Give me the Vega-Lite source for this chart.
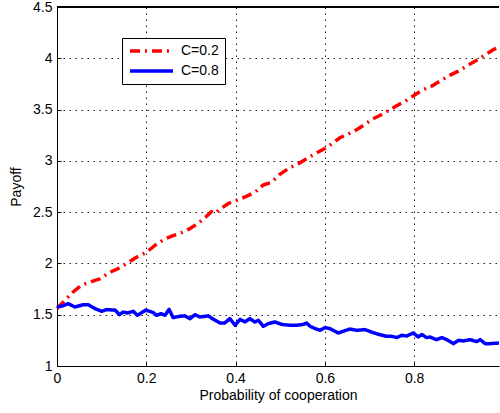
{
  "$schema": "https://vega.github.io/schema/vega-lite/v6.json",
  "width": 442,
  "height": 359,
  "autosize": {"type": "none"},
  "padding": {"left": 57, "top": 7, "right": 1, "bottom": 47},
  "background": "white",
  "config": {
    "view": {"stroke": null},
    "font": "Liberation Sans",
    "axis": {
      "labelFont": "Liberation Sans",
      "titleFont": "Liberation Sans",
      "labelFontSize": 14,
      "titleFontSize": 14,
      "titleFontWeight": "normal",
      "labelColor": "black",
      "titleColor": "black",
      "domainColor": "black",
      "domainWidth": 1,
      "tickColor": "black",
      "tickSize": -4
    }
  },
  "data": {
    "values": [
      {"p": 0.0, "payoff": 1.56, "series": "C=0.2"},
      {"p": 0.02, "payoff": 1.65, "series": "C=0.2"},
      {"p": 0.033, "payoff": 1.71, "series": "C=0.2"},
      {"p": 0.055, "payoff": 1.79, "series": "C=0.2"},
      {"p": 0.07, "payoff": 1.81, "series": "C=0.2"},
      {"p": 0.085, "payoff": 1.835, "series": "C=0.2"},
      {"p": 0.096, "payoff": 1.85, "series": "C=0.2"},
      {"p": 0.119, "payoff": 1.915, "series": "C=0.2"},
      {"p": 0.137, "payoff": 1.95, "series": "C=0.2"},
      {"p": 0.16, "payoff": 2.01, "series": "C=0.2"},
      {"p": 0.178, "payoff": 2.06, "series": "C=0.2"},
      {"p": 0.201, "payoff": 2.11, "series": "C=0.2"},
      {"p": 0.219, "payoff": 2.175, "series": "C=0.2"},
      {"p": 0.242, "payoff": 2.24, "series": "C=0.2"},
      {"p": 0.26, "payoff": 2.27, "series": "C=0.2"},
      {"p": 0.279, "payoff": 2.3, "series": "C=0.2"},
      {"p": 0.298, "payoff": 2.34, "series": "C=0.2"},
      {"p": 0.316, "payoff": 2.39, "series": "C=0.2"},
      {"p": 0.335, "payoff": 2.46, "series": "C=0.2"},
      {"p": 0.346, "payoff": 2.505, "series": "C=0.2"},
      {"p": 0.355, "payoff": 2.49, "series": "C=0.2"},
      {"p": 0.365, "payoff": 2.53, "series": "C=0.2"},
      {"p": 0.384, "payoff": 2.585, "series": "C=0.2"},
      {"p": 0.405, "payoff": 2.62, "series": "C=0.2"},
      {"p": 0.425, "payoff": 2.655, "series": "C=0.2"},
      {"p": 0.445, "payoff": 2.7, "series": "C=0.2"},
      {"p": 0.462, "payoff": 2.765, "series": "C=0.2"},
      {"p": 0.48, "payoff": 2.79, "series": "C=0.2"},
      {"p": 0.499, "payoff": 2.868, "series": "C=0.2"},
      {"p": 0.522, "payoff": 2.935, "series": "C=0.2"},
      {"p": 0.54, "payoff": 2.97, "series": "C=0.2"},
      {"p": 0.559, "payoff": 3.02, "series": "C=0.2"},
      {"p": 0.578, "payoff": 3.07, "series": "C=0.2"},
      {"p": 0.6, "payoff": 3.12, "series": "C=0.2"},
      {"p": 0.617, "payoff": 3.17, "series": "C=0.2"},
      {"p": 0.634, "payoff": 3.226, "series": "C=0.2"},
      {"p": 0.652, "payoff": 3.26, "series": "C=0.2"},
      {"p": 0.671, "payoff": 3.304, "series": "C=0.2"},
      {"p": 0.688, "payoff": 3.35, "series": "C=0.2"},
      {"p": 0.705, "payoff": 3.404, "series": "C=0.2"},
      {"p": 0.722, "payoff": 3.44, "series": "C=0.2"},
      {"p": 0.742, "payoff": 3.49, "series": "C=0.2"},
      {"p": 0.762, "payoff": 3.54, "series": "C=0.2"},
      {"p": 0.783, "payoff": 3.59, "series": "C=0.2"},
      {"p": 0.8, "payoff": 3.64, "series": "C=0.2"},
      {"p": 0.82, "payoff": 3.694, "series": "C=0.2"},
      {"p": 0.84, "payoff": 3.73, "series": "C=0.2"},
      {"p": 0.858, "payoff": 3.778, "series": "C=0.2"},
      {"p": 0.878, "payoff": 3.83, "series": "C=0.2"},
      {"p": 0.899, "payoff": 3.875, "series": "C=0.2"},
      {"p": 0.92, "payoff": 3.93, "series": "C=0.2"},
      {"p": 0.94, "payoff": 3.98, "series": "C=0.2"},
      {"p": 0.958, "payoff": 4.03, "series": "C=0.2"},
      {"p": 0.977, "payoff": 4.084, "series": "C=0.2"},
      {"p": 0.99, "payoff": 4.11, "series": "C=0.2"},
      {"p": 0.0, "payoff": 1.575, "series": "C=0.8"},
      {"p": 0.012, "payoff": 1.585, "series": "C=0.8"},
      {"p": 0.025, "payoff": 1.608, "series": "C=0.8"},
      {"p": 0.04, "payoff": 1.575, "series": "C=0.8"},
      {"p": 0.059, "payoff": 1.598, "series": "C=0.8"},
      {"p": 0.07, "payoff": 1.598, "series": "C=0.8"},
      {"p": 0.085, "payoff": 1.56, "series": "C=0.8"},
      {"p": 0.1, "payoff": 1.533, "series": "C=0.8"},
      {"p": 0.111, "payoff": 1.55, "series": "C=0.8"},
      {"p": 0.13, "payoff": 1.545, "series": "C=0.8"},
      {"p": 0.14, "payoff": 1.5, "series": "C=0.8"},
      {"p": 0.148, "payoff": 1.526, "series": "C=0.8"},
      {"p": 0.158, "payoff": 1.517, "series": "C=0.8"},
      {"p": 0.171, "payoff": 1.533, "series": "C=0.8"},
      {"p": 0.18, "payoff": 1.494, "series": "C=0.8"},
      {"p": 0.199, "payoff": 1.545, "series": "C=0.8"},
      {"p": 0.216, "payoff": 1.52, "series": "C=0.8"},
      {"p": 0.223, "payoff": 1.494, "series": "C=0.8"},
      {"p": 0.233, "payoff": 1.51, "series": "C=0.8"},
      {"p": 0.242, "payoff": 1.494, "series": "C=0.8"},
      {"p": 0.251, "payoff": 1.552, "series": "C=0.8"},
      {"p": 0.26, "payoff": 1.472, "series": "C=0.8"},
      {"p": 0.275, "payoff": 1.485, "series": "C=0.8"},
      {"p": 0.286, "payoff": 1.489, "series": "C=0.8"},
      {"p": 0.298, "payoff": 1.462, "series": "C=0.8"},
      {"p": 0.309, "payoff": 1.5, "series": "C=0.8"},
      {"p": 0.32, "payoff": 1.478, "series": "C=0.8"},
      {"p": 0.339, "payoff": 1.489, "series": "C=0.8"},
      {"p": 0.35, "payoff": 1.456, "series": "C=0.8"},
      {"p": 0.365, "payoff": 1.42, "series": "C=0.8"},
      {"p": 0.376, "payoff": 1.42, "series": "C=0.8"},
      {"p": 0.387, "payoff": 1.462, "series": "C=0.8"},
      {"p": 0.399, "payoff": 1.397, "series": "C=0.8"},
      {"p": 0.41, "payoff": 1.455, "series": "C=0.8"},
      {"p": 0.421, "payoff": 1.43, "series": "C=0.8"},
      {"p": 0.432, "payoff": 1.462, "series": "C=0.8"},
      {"p": 0.443, "payoff": 1.429, "series": "C=0.8"},
      {"p": 0.451, "payoff": 1.445, "series": "C=0.8"},
      {"p": 0.462, "payoff": 1.387, "series": "C=0.8"},
      {"p": 0.473, "payoff": 1.413, "series": "C=0.8"},
      {"p": 0.488, "payoff": 1.429, "series": "C=0.8"},
      {"p": 0.503, "payoff": 1.406, "series": "C=0.8"},
      {"p": 0.522, "payoff": 1.397, "series": "C=0.8"},
      {"p": 0.537, "payoff": 1.397, "series": "C=0.8"},
      {"p": 0.552, "payoff": 1.406, "series": "C=0.8"},
      {"p": 0.559, "payoff": 1.419, "series": "C=0.8"},
      {"p": 0.567, "payoff": 1.387, "series": "C=0.8"},
      {"p": 0.578, "payoff": 1.365, "series": "C=0.8"},
      {"p": 0.589, "payoff": 1.348, "series": "C=0.8"},
      {"p": 0.6, "payoff": 1.374, "series": "C=0.8"},
      {"p": 0.611, "payoff": 1.365, "series": "C=0.8"},
      {"p": 0.63, "payoff": 1.322, "series": "C=0.8"},
      {"p": 0.647, "payoff": 1.348, "series": "C=0.8"},
      {"p": 0.656, "payoff": 1.36, "series": "C=0.8"},
      {"p": 0.671, "payoff": 1.348, "series": "C=0.8"},
      {"p": 0.69, "payoff": 1.355, "series": "C=0.8"},
      {"p": 0.704, "payoff": 1.331, "series": "C=0.8"},
      {"p": 0.72, "payoff": 1.309, "series": "C=0.8"},
      {"p": 0.738, "payoff": 1.289, "series": "C=0.8"},
      {"p": 0.75, "payoff": 1.289, "series": "C=0.8"},
      {"p": 0.761, "payoff": 1.277, "series": "C=0.8"},
      {"p": 0.772, "payoff": 1.299, "series": "C=0.8"},
      {"p": 0.783, "payoff": 1.292, "series": "C=0.8"},
      {"p": 0.798, "payoff": 1.322, "series": "C=0.8"},
      {"p": 0.809, "payoff": 1.283, "series": "C=0.8"},
      {"p": 0.817, "payoff": 1.306, "series": "C=0.8"},
      {"p": 0.828, "payoff": 1.277, "series": "C=0.8"},
      {"p": 0.835, "payoff": 1.283, "series": "C=0.8"},
      {"p": 0.85, "payoff": 1.257, "series": "C=0.8"},
      {"p": 0.862, "payoff": 1.277, "series": "C=0.8"},
      {"p": 0.873, "payoff": 1.257, "series": "C=0.8"},
      {"p": 0.888, "payoff": 1.218, "series": "C=0.8"},
      {"p": 0.899, "payoff": 1.25, "series": "C=0.8"},
      {"p": 0.91, "payoff": 1.244, "series": "C=0.8"},
      {"p": 0.925, "payoff": 1.257, "series": "C=0.8"},
      {"p": 0.94, "payoff": 1.238, "series": "C=0.8"},
      {"p": 0.948, "payoff": 1.257, "series": "C=0.8"},
      {"p": 0.959, "payoff": 1.218, "series": "C=0.8"},
      {"p": 0.97, "payoff": 1.218, "series": "C=0.8"},
      {"p": 0.99, "payoff": 1.224, "series": "C=0.8"}
    ]
  },
  "encoding": {
    "x": {
      "field": "p", "type": "quantitative",
      "scale": {"domain": [0, 0.99], "nice": false, "zero": false},
      "axis": {"orient": "bottom", "title": "Probability of cooperation", "values": [0, 0.2, 0.4, 0.6, 0.8], "format": "~g", "labelPadding": 9, "titlePadding": 3, "labelFlush": false, "grid": true, "gridColor": "#000000", "gridDash": [1.5, 4.5], "gridWidth": 1, "gridOpacity": 0.9, "domain": true, "ticks": true}
    },
    "y": {
      "field": "payoff", "type": "quantitative",
      "scale": {"domain": [1, 4.5], "nice": false, "zero": false},
      "axis": {"title": "Payoff", "values": [1, 1.5, 2, 2.5, 3, 3.5, 4, 4.5], "format": "~g", "labelPadding": 9, "titlePadding": 9, "labelFlush": false, "grid": true, "gridColor": "#000000", "gridDash": [1.5, 4.5], "gridWidth": 1, "gridOpacity": 0.9, "domain": true, "ticks": true}
    }
  },
  "layer": [
    {
      "mark": {"type": "rule", "color": "black", "strokeWidth": 1},
      "encoding": {"y": {"datum": 4.5}, "x": null}
    },
    {
      "mark": {"type": "line", "strokeWidth": 3.5, "strokeCap": "butt", "strokeJoin": "round"},
      "encoding": {
        "color": {
          "field": "series", "type": "nominal", "title": null,
          "scale": {"domain": ["C=0.2", "C=0.8"], "range": ["#ff0000", "#0000ff"]},
          "legend": {
            "orient": "none", "legendX": 65, "legendY": 31,
            "symbolType": "stroke", "symbolSize": 1849, "symbolStrokeWidth": 3.5,
            "clipHeight": 14, "rowPadding": 6, "padding": 6, "labelOffset": 6,
            "labelFontSize": 14, "labelFont": "Liberation Sans", "labelColor": "black",
            "strokeColor": "black", "fillColor": "white", "cornerRadius": 0
          }
        },
        "strokeDash": {
          "field": "series", "type": "nominal", "title": null,
          "scale": {"domain": ["C=0.2", "C=0.8"], "range": [[10, 5, 2, 5], [1, 0]]}
        }
      }
    }
  ]
}
